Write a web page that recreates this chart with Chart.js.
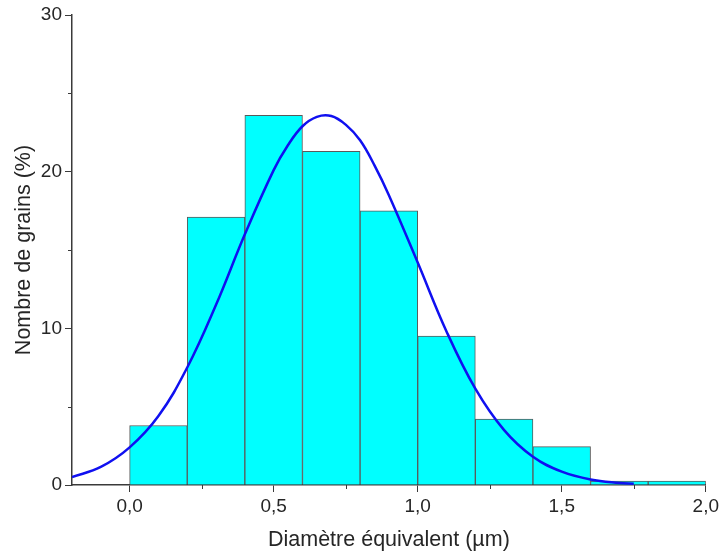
<!DOCTYPE html>
<html>
<head>
<meta charset="utf-8">
<script src="https://cdn.jsdelivr.net/npm/chart.js@4/dist/chart.umd.min.js"></script>
<style>
  html, body { margin: 0; padding: 0; background: #fff; }
  #wrap { width: 722px; height: 555px; }
</style>
</head>
<body>
<div id="wrap"><canvas id="hist"></canvas></div>
<script>
// ── Data ──────────────────────────────────────────────────────
const binCenters = [0.1, 0.3, 0.5, 0.7, 0.9, 1.1, 1.3, 1.5, 1.7, 1.9];
const binPercent = [3.8, 17.1, 23.6, 21.3, 17.5, 9.5, 4.2, 2.45, 0.25, 0.25];

// fitted curve
const fitX = [-0.2, -0.1, 0.0, 0.1, 0.2, 0.3, 0.4, 0.5, 0.55, 0.6, 0.65, 0.7, 0.75, 0.8, 0.85, 0.9,
              1.0, 1.1, 1.2, 1.3, 1.4, 1.5, 1.6, 1.7, 1.75];
const fitY = [0.5, 1.15, 2.4, 4.4, 7.5, 11.5, 16.0, 20.1, 21.7, 22.9, 23.5, 23.55, 23.0, 22.0, 20.4, 18.5,
              14.2, 9.8, 6.15, 3.5, 1.8, 0.85, 0.35, 0.13, 0.08];

const xMajor = [0, 0.5, 1.0, 1.5, 2.0];
const xMinor = [0.25, 0.75, 1.25, 1.75];
const yMajor = [0, 10, 20, 30];
const yMinor = [5, 15, 25];

const AXIS = '#3a3a3a';
const TEXT = '#262626';
const FONT = "'Liberation Sans', Arial, sans-serif";

// ── Short minor ticks on both axes ────────────────────────────
const minorTicks = {
  id: 'minorTicks',
  afterDraw(chart) {
    const { ctx, scales: { x, y } } = chart;
    ctx.save();
    ctx.strokeStyle = AXIS;
    ctx.lineWidth = 1;
    ctx.beginPath();
    xMinor.forEach(v => {
      const px = Math.round(x.getPixelForValue(v)) + 0.5;
      ctx.moveTo(px, x.top);
      ctx.lineTo(px, x.top + 4);
    });
    yMinor.forEach(v => {
      const py = Math.round(y.getPixelForValue(v)) + 0.5;
      ctx.moveTo(y.right, py);
      ctx.lineTo(y.right - 4, py);
    });
    ctx.stroke();
    ctx.restore();
  }
};

const commaFmt = (v) => Number(v).toFixed(1).replace('.', ',');

new Chart(document.getElementById('hist'), {
  type: 'bar',
  data: {
    datasets: [
      {
        type: 'line',
        label: 'Ajustement',
        data: fitX.map((x, i) => ({ x, y: fitY[i] })),
        borderColor: '#1010f0',
        borderWidth: 2.5,
        pointRadius: 0,
        tension: 0.4,
        fill: false,
        order: 0,
      },
      {
        label: 'Nombre de grains',
        data: binCenters.map((x, i) => ({ x, y: binPercent[i] })),
        backgroundColor: '#00ffff',
        borderColor: '#5a5a5a',
        borderWidth: 1,
        borderSkipped: 'bottom',
        barPercentage: 1,
        categoryPercentage: 1,
        order: 1,
      }
    ]
  },
  options: {
    responsive: true,
    maintainAspectRatio: false,
    animation: false,
    layout: { padding: { top: 15, right: 16, left: 0, bottom: 0 } },
    plugins: {
      legend: { display: false },
      tooltip: { enabled: false },
    },
    scales: {
      x: {
        type: 'linear',
        offset: false,
        min: -0.2,
        max: 2.0,
        afterBuildTicks: (s) => { s.ticks = xMajor.map(value => ({ value })); },
        afterFit: (s) => { s.height = 70; },
        border: { display: true, color: AXIS, width: 1.5 },
        grid: { drawOnChartArea: false, offset: false, tickLength: 7, tickColor: AXIS, tickWidth: 1 },
        ticks: {
          callback: commaFmt,
          color: TEXT,
          font: { family: FONT, size: 19 },
          padding: 3,
          maxRotation: 0,
        },
        title: {
          display: true,
          text: 'Diamètre équivalent (µm)',
          color: TEXT,
          font: { family: FONT, size: 21.5 },
          padding: { top: 4, bottom: 2 },
        }
      },
      y: {
        min: 0,
        max: 30,
        afterBuildTicks: (s) => { s.ticks = yMajor.map(value => ({ value })); },
        afterFit: (s) => { s.width = 72; },
        border: { display: true, color: AXIS, width: 1.5 },
        grid: { drawOnChartArea: false, tickLength: 7, tickColor: AXIS, tickWidth: 1 },
        ticks: {
          color: TEXT,
          font: { family: FONT, size: 19 },
          padding: 3,
        },
        title: {
          display: true,
          text: 'Nombre de grains (%)',
          color: TEXT,
          font: { family: FONT, size: 21.5 },
          padding: { top: 11, bottom: 0 },
        }
      }
    }
  },
  plugins: [minorTicks]
});
</script>
</body>
</html>
